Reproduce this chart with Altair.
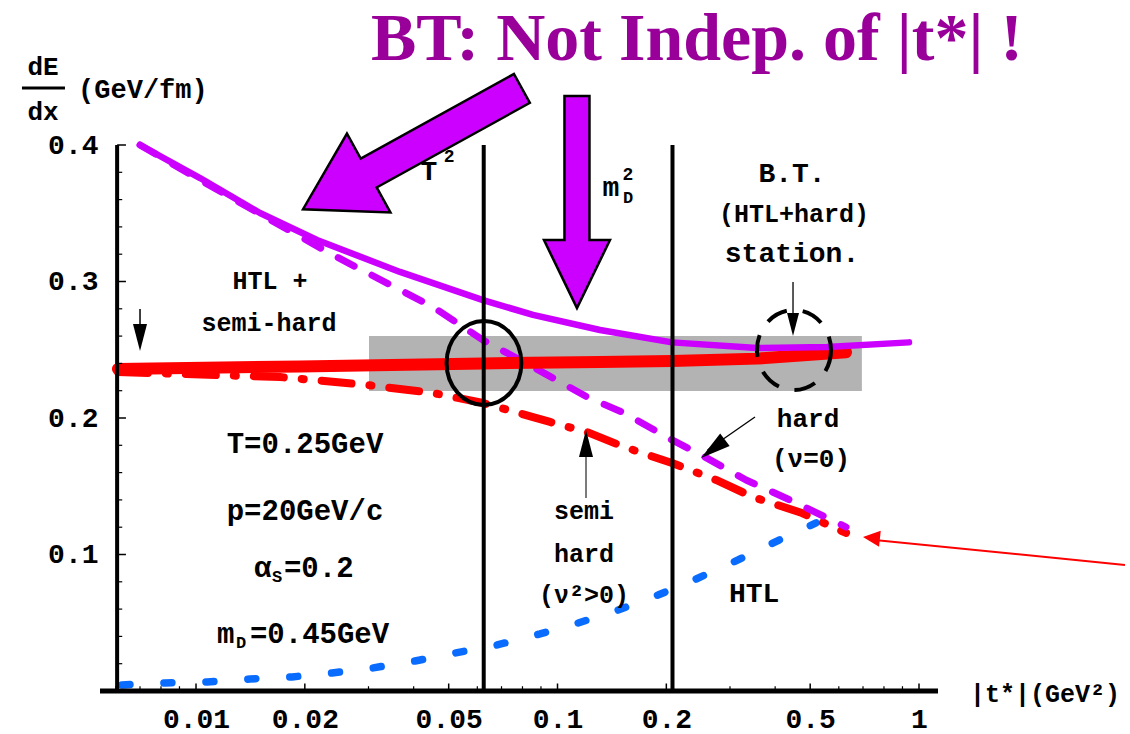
import altair as alt
import pandas as pd

MONO = "Liberation Mono"
SERIF = "Liberation Serif"
PURPLE = "#CC00FF"
RED = "#FF0000"
BLUE = "#0A6CFF"

# ---- dE/dx (GeV/fm) against |t*| (GeV^2) ----
# B.T. total (HTL + hard), solid purple
bt_t = [0.0070, 0.01026, 0.01503, 0.02161, 0.03667, 0.06222, 0.08555, 0.1311, 0.2074, 0.3564, 0.5566, 0.9383]
bt_y = [0.400, 0.3758, 0.3502, 0.3304, 0.3070, 0.2864, 0.2755, 0.2645, 0.2554, 0.2513, 0.2520, 0.2554]

# hard part (nu = 0), dashed purple
hard_t = [0.0070, 0.01026, 0.01503, 0.02393, 0.04525, 0.06222, 0.08555, 0.1207, 0.1528, 0.2074, 0.2559, 0.3322, 0.4398, 0.6283]
hard_y = [0.400, 0.3744, 0.3495, 0.3194, 0.2813, 0.2571, 0.2374, 0.2154, 0.2037, 0.1839, 0.1714, 0.1546, 0.1399, 0.1201]

# semi-hard part (nu^2 > 0), dash-dot red
semi_t = [0.00608, 0.01708, 0.02972, 0.04525, 0.06222, 0.08555, 0.09535, 0.1207, 0.1528, 0.2074, 0.2745, 0.3474, 0.4746, 0.6283]
semi_y = [0.2337, 0.2300, 0.2242, 0.2183, 0.2110, 0.2007, 0.1971, 0.1897, 0.1788, 0.1670, 0.1546, 0.1421, 0.1304, 0.1158]

# HTL + semi-hard, thick red
hs_t = [0.00608, 0.0194, 0.06222, 0.1311, 0.2074, 0.3564, 0.6283]
hs_y = [0.2359, 0.2378, 0.2400, 0.2410, 0.2418, 0.2435, 0.2482]

# HTL part, dotted blue
htl_t = [0.00624, 0.00821, 0.01073, 0.0141, 0.01843, 0.02378, 0.03069, 0.04036, 0.05207,
         0.06802, 0.08944, 0.1140, 0.1471, 0.1897, 0.2416, 0.3158, 0.4101, 0.519]
htl_y = [0.0044, 0.0059, 0.0066, 0.0088, 0.0103, 0.0132, 0.0168, 0.0220, 0.0278,
         0.0337, 0.0418, 0.0498, 0.0593, 0.0703, 0.0820, 0.0960, 0.1106, 0.1231]

# stationary band
band_t = [0.0301, 0.695]
band_y = [0.2198, 0.2600]

# reference scales T^2 and m_D^2
t_sq = 0.0625
md_sq = 0.208

x_ticks = [0.01, 0.02, 0.05, 0.1, 0.2, 0.5, 1]
x_minor = [0.006, 0.007, 0.008, 0.009, 0.03, 0.04, 0.06, 0.07, 0.08, 0.09, 0.3, 0.4, 0.6, 0.7, 0.8, 0.9]
y_ticks = [0.1, 0.2, 0.3, 0.4]
y_minor = [0.02, 0.04, 0.06, 0.08, 0.12, 0.14, 0.16, 0.18, 0.22, 0.24, 0.26, 0.28, 0.32, 0.34, 0.36, 0.38]

x_lo, x_hi = 0.005425, 1.1286
y_axis_t = 0.00605

xs = alt.Scale(type="log", domain=[x_lo, x_hi], nice=False)
ys = alt.Scale(domain=[0, 0.4], nice=False, zero=False)

x_axis = alt.Axis(values=x_ticks, format="~g", title=None, domain=False, ticks=False, grid=False,
                  labelFont=MONO, labelFontWeight="bold", labelFontSize=28, labelColor="black",
                  labelPadding=14, labelFlush=False)
y_axis = alt.Axis(values=y_ticks, format=".1f", title=None, domain=False, ticks=False, grid=False,
                  labelFont=MONO, labelFontWeight="bold", labelFontSize=28, labelColor="black",
                  labelPadding=2, labelFlush=False)

X = alt.X("t:Q", scale=xs, axis=x_axis)
Y = alt.Y("y:Q", scale=ys, axis=y_axis)


def curve(ts, vals, color, width, dash=None):
    kw = dict(color=color, strokeWidth=width, strokeCap="round", strokeJoin="round")
    if dash:
        kw["strokeDash"] = dash
    return alt.Chart(pd.DataFrame({"t": ts, "y": vals})).mark_line(**kw).encode(x=X, y=Y)


def rules(rows):
    df = pd.DataFrame(rows, columns=["t", "y", "t2", "y2", "w", "c"])
    return alt.Chart(df).mark_rule().encode(
        x=X, y=Y, x2="t2:Q", y2="y2:Q",
        strokeWidth=alt.StrokeWidth("w:Q", scale=None),
        color=alt.Color("c:N", scale=None),
    )


def texts(rows, align="center", weight="bold", font=MONO, color="black"):
    df = pd.DataFrame(rows, columns=["t", "y", "label", "fs"])
    return alt.Chart(df).mark_text(align=align, baseline="alphabetic", font=font,
                                   fontWeight=weight, color=color).encode(
        x=X, y=Y, text="label:N", size=alt.Size("fs:Q", scale=None, legend=None))


band = alt.Chart(pd.DataFrame({"t": [band_t[0]], "t2": [band_t[1]], "y": [band_y[0]], "y2": [band_y[1]]})) \
    .mark_rect(color="#B3B3B3").encode(x=X, x2="t2:Q", y=Y, y2="y2:Q")

lines = [
    curve(htl_t, htl_y, BLUE, 7.5, [8, 34]),
    curve(semi_t, semi_y, RED, 8, [30, 18, 2, 18]),
    curve(hard_t, hard_y, PURPLE, 7, [18, 20]),
    curve(hs_t, hs_y, RED, 12),
    curve(bt_t, bt_y, PURPLE, 6.5),
]

frame_rows = [
    [x_lo, 0, x_hi, 0, 5, "black"],
    [y_axis_t, 0, y_axis_t, 0.4, 4, "black"],
    [t_sq, 0, t_sq, 0.4, 4, "black"],
    [md_sq, 0, md_sq, 0.4, 4, "black"],
]
frame_rows += [[v, 0, v, 0.0055, 1.5, "black"] for v in x_ticks]
frame_rows += [[v, 0, v, 0.0035, 1.2, "black"] for v in x_minor]
frame_rows += [[y_axis_t, v, 0.00640, v, 1.5, "black"] for v in y_ticks]
frame_rows += [[y_axis_t, v, 0.00625, v, 1.2, "black"] for v in y_minor]
# fraction bar of the dE/dx label
frame_rows += [[0.0033, 0.4418, 0.00434, 0.4418, 3, "black"]]
frame = rules(frame_rows)

# thin pointer arrows: shafts and heads
shafts = rules([
    [0.0070, 0.2799, 0.0070, 0.2650, 1.5, "black"],
    [0.1199, 0.1414, 0.1199, 0.1800, 1.3, "#333333"],
    [0.3518, 0.2007, 0.2600, 0.1765, 1.3, "black"],
    [0.4482, 0.2996, 0.4482, 0.2680, 1.3, "black"],
    [3.713, 0.0923, 0.7300, 0.1110, 2, RED],
])

HEAD = "M 0 0 L 0.26 1 L -0.26 1 Z"
heads = alt.Chart(pd.DataFrame({
    "t": [0.0070, 0.1199, 0.2495, 0.4482],
    "y": [0.2491, 0.1912, 0.1707, 0.2601],
    "ang": [180, 0, 232.7, 180],
    "sz": [2916, 2916, 3600, 2116],
})).mark_point(shape=HEAD, filled=True, fill="black", strokeWidth=0, opacity=1).encode(
    x=X, y=Y, angle=alt.Angle("ang:Q", scale=None), size=alt.Size("sz:Q", scale=None, legend=None))

red_head = alt.Chart(pd.DataFrame({"t": [0.6999], "y": [0.1128]})).mark_point(
    shape="M 0 0 L 0.47 1 L -0.47 1 Z", filled=True, fill=RED, strokeWidth=0, opacity=1,
    size=1156, angle=276).encode(x=X, y=Y)

# ellipses marking T^2 crossing and the stationary point
ELL_A = "M 0.89 0 C 0.89 0.5523 0.4915 1 0 1 C -0.4915 1 -0.89 0.5523 -0.89 0 C -0.89 -0.5523 -0.4915 -1 0 -1 C 0.4915 -1 0.89 -0.5523 0.89 0 Z"
ELL_B = "M 0.925 0 C 0.925 0.5523 0.5109 1 0 1 C -0.5109 1 -0.925 0.5523 -0.925 0 C -0.925 -0.5523 -0.5109 -1 0 -1 C 0.5109 -1 0.925 -0.5523 0.925 0 Z"
ring = alt.Chart(pd.DataFrame({"t": [0.0626], "y": [0.2403]})).mark_point(
    shape=ELL_A, filled=False, stroke="black", strokeWidth=4, size=7056, opacity=1).encode(x=X, y=Y)
ring_dash = alt.Chart(pd.DataFrame({"t": [0.451], "y": [0.2498]})).mark_point(
    shape=ELL_B, filled=False, stroke="black", strokeWidth=4, size=6400, opacity=1,
    strokeDash=[22, 16]).encode(x=X, y=Y)

# big block arrows
DOWN_ARROW = "M -0.125 -1.06 L 0.125 -1.06 L 0.125 0.38 L 0.33 0.38 L 0 1.06 L -0.33 0.38 L -0.125 0.38 Z"
UP_ARROW = "M -0.132 1 L 0.132 1 L 0.132 -0.4 L 0.36 -0.4 L 0 -1 L -0.36 -0.4 L -0.132 -0.4 Z"
big_down = alt.Chart(pd.DataFrame({"t": [0.1132], "y": [0.3582]})).mark_point(
    shape=DOWN_ARROW, filled=True, fill=PURPLE, stroke="black", strokeWidth=2.5, size=40000,
    opacity=1).encode(x=X, y=Y)
big_diag = alt.Chart(pd.DataFrame({"t": [0.0397], "y": [0.3972]})).mark_point(
    shape=UP_ARROW, filled=True, fill=PURPLE, stroke="black", strokeWidth=2.5, size=62500,
    angle=241.1, opacity=1).encode(x=X, y=Y)

# labels
centre_txt = texts([
    [0.04411, 0.3744, "T", 28],
    [0.05011, 0.3875, "2", 18],
    [0.1406, 0.3626, "m", 28],
    [0.1567, 0.3575, "D", 17],
    [0.1567, 0.3744, "2", 18],
    [0.4453, 0.3729, "B.T.", 28],
    [0.4510, 0.3436, "(HTL+hard)", 25],
    [0.4453, 0.3143, "station.", 28],
    [0.01602, 0.2945, "HTL +", 25],
    [0.01592, 0.2637, "semi-hard", 25],
    [0.02002, 0.1744, "T=0.25GeV", 29],
    [0.02002, 0.1253, "p=20GeV/c", 29],
    [0.1184, 0.1260, "semi", 25],
    [0.1184, 0.0945, "hard", 25],
    [0.1184, 0.0645, "(ν²>0)", 25],
    [0.4932, 0.1934, "hard", 26],
    [0.5026, 0.1641, "(ν=0)", 26],
    [0.3498, 0.0652, "HTL", 28],
    [0.003774, 0.4513, "dE", 26],
    [0.003774, 0.4183, "dx", 26],
])
left_txt = texts([
    [0.004718, 0.4344, "(GeV/fm)", 27],
    [1.384, -0.00806, "|t*|(GeV²)", 25],
    [0.01447, 0.0835, "α", 29],
    [0.01622, 0.0799, "S", 17],
    [0.01751, 0.0835, "=0.2", 29],
    [0.01143, 0.0352, "m", 29],
    [0.01290, 0.0315, "D", 17],
    [0.01410, 0.0352, "=0.45GeV", 29],
], align="left")
title_txt = texts([[0.2431, 0.4623, "BT: Not Indep. of |t*| !", 68]], font=SERIF, color="#990099")

chart = alt.layer(
    band, *lines, frame, ring, ring_dash, shafts, heads, red_head, big_diag, big_down,
    centre_txt, left_txt, title_txt,
).properties(
    width=838, height=546,
    autosize=alt.AutoSizeParams(type="none"),
    padding={"left": 100, "top": 145, "right": 192, "bottom": 43},
    background="white",
).configure_view(stroke=None)

chart.save("out.html", embed_options={"renderer": "svg", "actions": False})
